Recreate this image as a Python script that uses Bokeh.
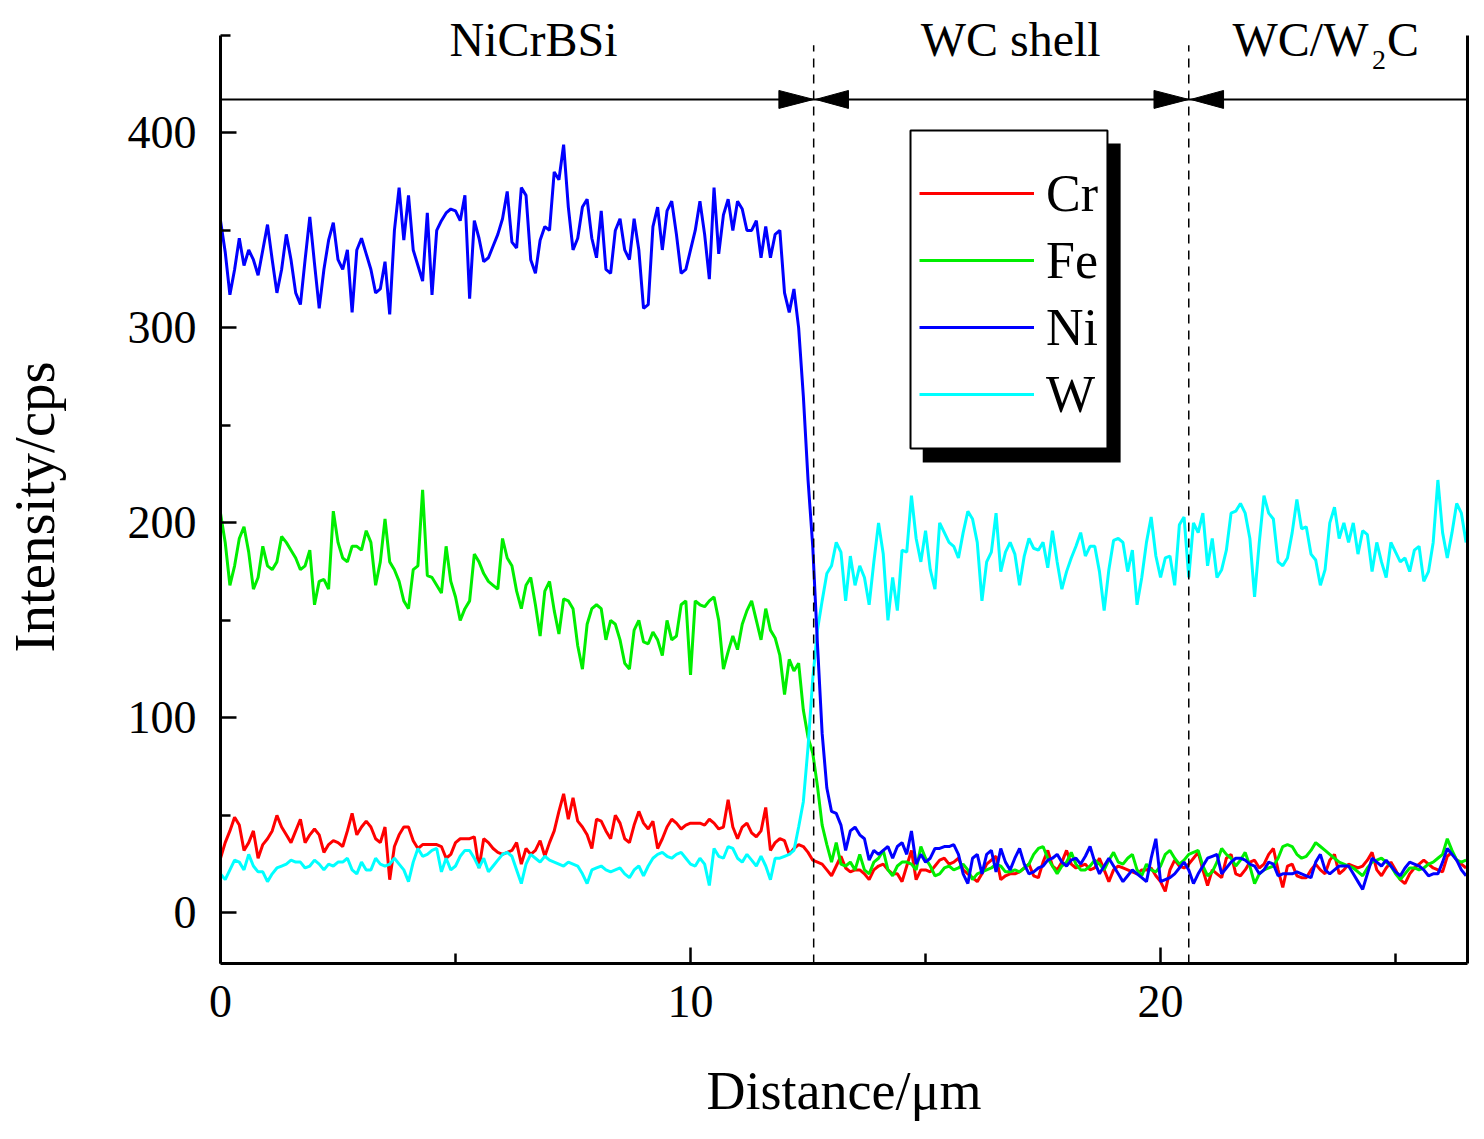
import numpy as np
from bokeh.plotting import figure
from bokeh.models import (Range1d, FixedTicker, LinearAxis, Legend, LegendItem,
                          BoxAnnotation, Label, Span, Title)
from bokeh.embed import file_html
from bokeh.resources import INLINE

# line scan, one reading every 0.1 um
step_um = 0.1

cr_cps = [
    28, 36, 42, 49, 45, 32, 36, 42, 28, 35,
    38, 42, 50, 44, 40, 36, 42, 48, 36, 40,
    43, 40, 31, 35, 37, 36, 34, 42, 51, 40,
    44, 47, 44, 38, 36, 44, 17, 34, 40, 44,
    44, 37, 33, 35, 35, 35, 35, 34, 28, 30,
    36, 38, 38, 38, 39, 23, 38, 36, 33, 31,
    30, 31, 32, 36, 25, 33, 30, 32, 37, 29,
    36, 42, 52, 61, 48, 59, 47, 44, 40, 33,
    48, 47, 42, 38, 50, 46, 38, 36, 45, 52,
    46, 43, 47, 33, 38, 44, 48, 46, 43, 45,
    46, 46, 46, 45, 48, 46, 43, 44, 58, 44,
    38, 44, 46, 41, 39, 42, 54, 32, 36, 38,
    37, 30, 33, 35, 34, 31, 27, 26, 25, 22,
    19, 24, 29, 23, 21, 22, 22, 20, 17, 22,
    24, 25, 22, 20, 20, 16, 24, 32, 17, 22,
    22, 21, 24, 27, 28, 25, 26, 28, 22, 20,
    18, 16, 20, 25, 27, 29, 17, 19, 20, 20,
    21, 23, 25, 19, 18, 26, 32, 24, 22, 26,
    32, 25, 23, 24, 25, 22, 23, 28, 22, 16,
    22, 24, 23, 22, 21, 20, 22, 22, 23, 19,
    16, 11, 22, 27, 24, 23, 25, 28, 31, 22,
    14, 22, 20, 18, 28, 30, 20, 19, 22, 26,
    27, 23, 25, 30, 33, 22, 13, 24, 25, 19,
    18, 18, 22, 25, 22, 20, 27, 30, 20, 22,
    25, 24, 23, 24, 27, 31, 22, 19, 23, 26,
    22, 17, 15, 20, 23, 25, 27, 25, 23, 22,
    21, 29, 31, 27, 25, 23,
]

fe_cps = [
    205, 190, 168, 178, 192, 198, 185, 166, 172, 188,
    178, 176, 180, 193, 190, 186, 182, 176, 178, 186,
    158, 170, 171, 166, 206, 190, 182, 180, 188, 188,
    186, 196, 190, 168, 180, 202, 180, 176, 170, 160,
    156, 176, 178, 217, 173, 172, 168, 164, 188, 170,
    162, 150, 156, 160, 184, 180, 174, 170, 168, 166,
    192, 182, 178, 165, 156, 168, 172, 158, 142, 165,
    170, 155, 143, 161, 160, 156, 137, 125, 148, 156,
    158, 156, 140, 150, 148, 140, 128, 125, 145, 150,
    139, 138, 144, 140, 132, 150, 140, 142, 158, 160,
    122, 160, 158, 157, 160, 162, 150, 125, 134, 142,
    135, 148, 155, 160, 150, 140, 156, 145, 141, 132,
    112, 130, 124, 128, 104, 90, 82, 65, 45, 35,
    26, 36, 25, 24, 26, 22, 30, 22, 20, 26,
    28, 32, 22, 19, 24, 26, 26, 25, 22, 34,
    28, 24, 19, 20, 23, 24, 22, 23, 25, 22,
    17, 20, 21, 22, 23, 25, 24, 21, 21, 22,
    21, 23, 25, 30, 33, 34, 28, 24, 20, 24,
    26, 31, 25, 22, 22, 24, 27, 25, 22, 27,
    31, 26, 25, 28, 30, 22, 19, 25, 22, 21,
    24, 30, 32, 28, 25, 27, 30, 31, 32, 24,
    19, 21, 26, 33, 30, 28, 24, 27, 31, 24,
    15, 20, 22, 23, 24, 28, 34, 35, 34, 30,
    28, 29, 32, 36, 34, 32, 30, 28, 26, 25,
    24, 23, 21, 19, 23, 26, 27, 28, 26, 24,
    20, 17, 20, 23, 23, 22, 23, 25, 26, 28,
    30, 38, 32, 27, 26, 27,
]

ni_cps = [
    355, 339, 317, 330, 346, 332, 340, 335, 327, 340,
    353, 335, 318, 330, 348, 335, 318, 312, 335, 357,
    333, 310, 330, 345, 354, 335, 330, 340, 308, 340,
    346, 338, 330, 318, 320, 334, 307, 350, 372, 345,
    368, 340, 332, 324, 359, 317, 350, 355, 359, 361,
    360, 355, 368, 315, 355, 346, 334, 336, 342, 348,
    356, 370, 344, 341, 372, 368, 335, 328, 345, 352,
    350, 380, 376, 394, 362, 340, 346, 362, 366, 346,
    336, 360, 330, 328, 350, 356, 340, 335, 356, 340,
    310, 312, 352, 362, 340, 360, 365, 348, 328, 330,
    340, 350, 365, 348, 325, 372, 338, 358, 366, 350,
    365, 361, 350, 350, 355, 336, 352, 336, 348, 350,
    318, 308, 320, 300, 265, 222, 188, 138, 92, 64,
    52, 51, 45, 32, 42, 44, 40, 38, 27, 32,
    30, 32, 34, 28, 34, 36, 30, 42, 25, 30,
    26, 28, 33, 33, 34, 34, 35, 30, 20, 15,
    28, 30, 20, 30, 32, 21, 33, 26, 22, 28,
    33, 25, 20, 21, 23, 24, 27, 28, 30, 26,
    24, 27, 28, 25, 29, 34, 26, 20, 24, 28,
    24, 20, 16, 19, 22, 20, 18, 16, 28, 38,
    16, 17, 18, 20, 23, 26, 22, 15, 20, 24,
    28, 29, 30, 20, 23, 26, 28, 28, 27, 25,
    24, 20, 22, 26, 25, 19, 20, 20, 20, 21,
    20, 19, 18, 26, 30, 22, 20, 22, 24, 24,
    24, 20, 16, 12, 20, 28, 26, 24, 27, 24,
    21, 19, 23, 26, 25, 24, 22, 19, 20, 20,
    26, 33, 30, 27, 22, 19,
]

w_cps = [
    20, 17, 22, 27, 26, 22, 30, 24, 21, 21,
    16, 20, 23, 24, 25, 27, 26, 26, 23, 24,
    27, 25, 22, 25, 24, 26, 26, 28, 22, 20,
    26, 22, 22, 28, 25, 24, 25, 28, 25, 22,
    16, 26, 33, 29, 30, 32, 33, 21, 28, 22,
    24, 29, 32, 32, 28, 23, 28, 21, 24, 27,
    30, 31, 29, 22, 15, 25, 30, 28, 26, 29,
    27, 26, 25, 24, 26, 25, 24, 20, 15, 22,
    23, 24, 22, 21, 22, 23, 20, 18, 22, 24,
    19, 24, 28, 30, 31, 29, 28, 30, 31, 28,
    25, 24, 28, 25, 14, 33, 29, 28, 34, 33,
    28, 26, 30, 27, 24, 29, 24, 17, 28, 28,
    29, 30, 32, 44, 57, 85, 120, 145, 160, 174,
    178, 190, 185, 160, 183, 168, 178, 172, 158, 180,
    200, 184, 150, 172, 155, 186, 185, 214, 192, 180,
    196, 176, 166, 200, 195, 190, 188, 182, 195, 206,
    202, 190, 160, 180, 185, 205, 175, 185, 190, 184,
    168, 183, 192, 187, 186, 190, 177, 196, 180, 166,
    175, 182, 188, 195, 183, 188, 188, 175, 155, 176,
    191, 192, 190, 175, 186, 158, 172, 190, 203, 183,
    172, 182, 183, 168, 199, 203, 172, 200, 195, 205,
    178, 192, 172, 176, 186, 205, 206, 210, 205, 192,
    162, 190, 214, 205, 202, 180, 178, 182, 195, 212,
    197, 198, 184, 181, 168, 176, 200, 208, 192, 200,
    190, 200, 184, 196, 194, 175, 190, 180, 172, 190,
    185, 180, 182, 175, 186, 188, 170, 175, 190, 222,
    195, 182, 195, 210, 205, 190,
]

distance = np.round(np.arange(len(ni_cps)) * step_um, 1)

# zone borders (um) and zone captions
boundaries = [12.62, 20.6]
zone_labels = ["NiCrBSi", "WC shell"]
zone_label_x = [6.66, 16.81]

FONT = "Liberation Serif"
Y_LO, Y_HI = -26, 450   # drawn extent of the axis lines

# the frame reaches a little above the axis top so the captions are not clipped
p = figure(width=1476, height=1130, output_backend="svg", toolbar_location=None,
           x_range=Range1d(0, 26.53), y_range=Range1d(Y_LO, 463.85),
           min_border_left=220, min_border_right=9, min_border_top=8,
           min_border_bottom=167, x_axis_label="Distance/\u03bcm")
p.outline_line_color = None
p.grid.visible = False

p.xaxis.ticker = FixedTicker(ticks=[0, 10, 20], minor_ticks=[5, 15, 25])
p.yaxis.ticker = FixedTicker(ticks=[0, 100, 200, 300, 400],
                             minor_ticks=[50, 150, 250, 350, 450])
p.yaxis.bounds = (Y_LO, Y_HI)
for ax in (p.xaxis[0], p.yaxis[0]):
    ax.axis_line_width = 3
    ax.axis_line_color = "black"
    ax.major_tick_in = 16
    ax.major_tick_out = 0
    ax.minor_tick_in = 10
    ax.minor_tick_out = 0
    ax.major_tick_line_width = 2.5
    ax.minor_tick_line_width = 2.5
    ax.major_label_text_font = FONT
    ax.major_label_text_font_size = "46px"
    ax.major_label_text_color = "black"
    ax.major_label_standoff = 22
    ax.axis_label_text_font = FONT
    ax.axis_label_text_font_style = "normal"
    ax.axis_label_text_color = "black"
p.yaxis.major_label_standoff = 24
p.xaxis.axis_label_standoff = 41
p.xaxis.axis_label_text_font_size = "54px"

# blank spacer between the tick labels and the y title
p.yaxis.axis_label = "\u00a0"
p.yaxis.axis_label_text_font_size = "1px"
p.yaxis.axis_label_standoff = 55

# y title as a side title, placed from the bottom of the frame
ytitle = Title(text="Intensity/cps", align="left", offset=311, standoff=0,
               text_font=FONT, text_font_size="57px", text_font_style="normal",
               text_color="black")
p.add_layout(ytitle, "left")

# plain frame line on the right side
right = LinearAxis(ticker=FixedTicker(ticks=[]), major_label_text_font_size="0px",
                   axis_line_width=3, major_tick_line_color=None,
                   minor_tick_line_color=None, bounds=(Y_LO, Y_HI))
p.add_layout(right, "right")

lw = 3
r_cr = p.line(distance, cr_cps, line_color="#ff0000", line_width=lw)
r_fe = p.line(distance, fe_cps, line_color="#00ee00", line_width=lw)
r_w = p.line(distance, w_cps, line_color="#00ffff", line_width=lw)
r_ni = p.line(distance, ni_cps, line_color="#0000ff", line_width=lw)

# zone borders
p.segment(x0=boundaries, y0=[Y_LO] * len(boundaries), x1=boundaries,
          y1=[445] * len(boundaries), line_color="black", line_width=1.5,
          line_dash="9 7")
bar_y = 417.2
p.add_layout(Span(location=bar_y, dimension="width", line_color="black",
                  line_width=2))
arrow_len, arrow_half = 0.74, 4.6
ax_list, ay_list = [], []
for b in boundaries:
    ax_list.append([b - arrow_len, b - arrow_len, b])
    ay_list.append([bar_y + arrow_half, bar_y - arrow_half, bar_y])
    ax_list.append([b + arrow_len, b + arrow_len, b + 0.04])
    ay_list.append([bar_y + arrow_half, bar_y - arrow_half, bar_y])
p.patches(ax_list, ay_list, fill_color="black", line_color="black", line_width=1)

cap_y = 447.9
for txt, xc in zip(zone_labels, zone_label_x):
    p.add_layout(Label(x=xc, y=cap_y, text=txt, text_align="center",
                       text_baseline="alphabetic", text_font=FONT,
                       text_font_size="48px", text_color="black"))
p.add_layout(Label(x=21.53, y=cap_y, text="WC/W", text_align="left",
                   text_baseline="alphabetic", text_font=FONT,
                   text_font_size="48px", text_color="black"))
p.add_layout(Label(x=24.5, y=cap_y - 10.7, text="2", text_align="left",
                   text_baseline="alphabetic", text_font=FONT,
                   text_font_size="28px", text_color="black"))
p.add_layout(Label(x=24.82, y=cap_y, text="C", text_align="left",
                   text_baseline="alphabetic", text_font=FONT,
                   text_font_size="48px", text_color="black"))

# legend box with drop shadow
p.add_layout(BoxAnnotation(left=14.94, right=19.15, top=394.6, bottom=231.0,
                           fill_color="black", fill_alpha=1, line_color=None))
p.add_layout(BoxAnnotation(left=14.68, right=18.87, top=401.3, bottom=238.2,
                           fill_color="white", fill_alpha=1, line_color="black",
                           line_alpha=1, line_width=2))
legend = Legend(items=[LegendItem(label="Cr", renderers=[r_cr]),
                       LegendItem(label="Fe", renderers=[r_fe]),
                       LegendItem(label="Ni", renderers=[r_ni]),
                       LegendItem(label="W", renderers=[r_w])],
                location=(699, 539))
legend.label_text_font = FONT
legend.label_text_font_size = "52px"
legend.label_text_color = "black"
legend.glyph_width = 115
legend.glyph_height = 60
legend.label_height = 60
legend.label_standoff = 12
legend.spacing = 7
legend.padding = 10
legend.margin = 0
legend.border_line_color = None
legend.background_fill_alpha = 0
p.add_layout(legend)

open("out.html", "w").write(file_html(p, INLINE))
